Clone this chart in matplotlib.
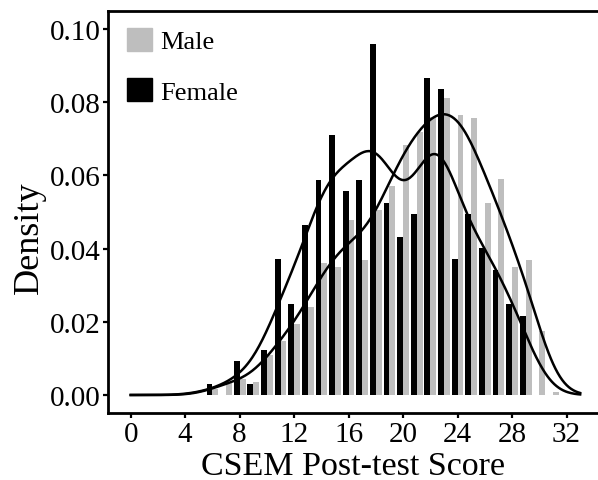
import numpy as np
import matplotlib
matplotlib.use('Agg')
import matplotlib.pyplot as plt
from matplotlib.patches import Patch

plt.rcParams['font.family'] = ['Liberation Serif', 'DejaVu Serif']

# post-test score (integer) and share of students per score
scores = np.arange(6, 32)
female = [0.0029, 0.0, 0.0092, 0.0030, 0.0123, 0.0372, 0.0249, 0.0464, 0.0587,
          0.0710, 0.0557, 0.0587, 0.0959, 0.0525, 0.0431, 0.0495, 0.0866, 0.0836,
          0.0372, 0.0495, 0.0402, 0.0342, 0.0249, 0.0215, 0.0, 0.0]
male = [0.0017, 0.0033, 0.0045, 0.0035, 0.0110, 0.0148, 0.0194, 0.0240, 0.0361,
        0.0351, 0.0479, 0.0369, 0.0506, 0.0572, 0.0683, 0.0719, 0.0760, 0.0811,
        0.0765, 0.0757, 0.0525, 0.0590, 0.0349, 0.0369, 0.0176, 0.0007]


def kde(x, w, grid, bw):
    w = np.asarray(w) / np.sum(w)
    z = (grid[:, None] - x[None, :]) / bw
    return (w[None, :] * np.exp(-0.5 * z ** 2)).sum(axis=1) / (bw * np.sqrt(2 * np.pi))


grid = np.linspace(0, 33, 400)

fig = plt.figure(figsize=(5.98, 4.81), dpi=100)
ax = fig.add_axes([108 / 598, 1 - 414 / 481, 490 / 598, 402 / 481])

w = 0.43
ax.bar(scores + w / 2, male, width=w, color='#bebebe', label='Male')
ax.bar(scores - w / 2, female, width=w, color='black', label='Female')
ax.plot(grid, kde(scores, female, grid, 1.45), color='black', lw=1.8)
ax.plot(grid, kde(scores, male, grid, 1.3), color='black', lw=1.8)

ax.set_xlim(-1.667, 34.31)
ax.set_ylim(-0.00492, 0.10492)
ax.set_xticks(np.arange(0, 33, 4))
ax.set_yticks(np.arange(0, 0.101, 0.02))
ax.set_yticklabels(['%.2f' % v for v in np.arange(0, 0.101, 0.02)])
ax.tick_params(labelsize=21, width=1.6, length=3.5, color='black', labelcolor='black', pad=2)
ax.spines['right'].set_visible(False)
for s in ['left', 'top', 'bottom']:
    ax.spines[s].set_linewidth(2)

ax.set_xlabel('CSEM Post-test Score', fontsize=24.5, labelpad=3)
ax.set_ylabel('Density', fontsize=26)
ax.yaxis.set_label_coords(-0.126, 0.438)

handles = [Patch(color='#bebebe', label='Male'), Patch(color='black', label='Female')]
ax.legend(handles=handles, loc='upper left', bbox_to_anchor=(0.039, 0.958), frameon=False,
          fontsize=19, handlelength=0.95, handleheight=0.95, labelspacing=0.95,
          handletextpad=0.3, borderpad=0, borderaxespad=0)

fig.savefig('out.png', dpi=100)
